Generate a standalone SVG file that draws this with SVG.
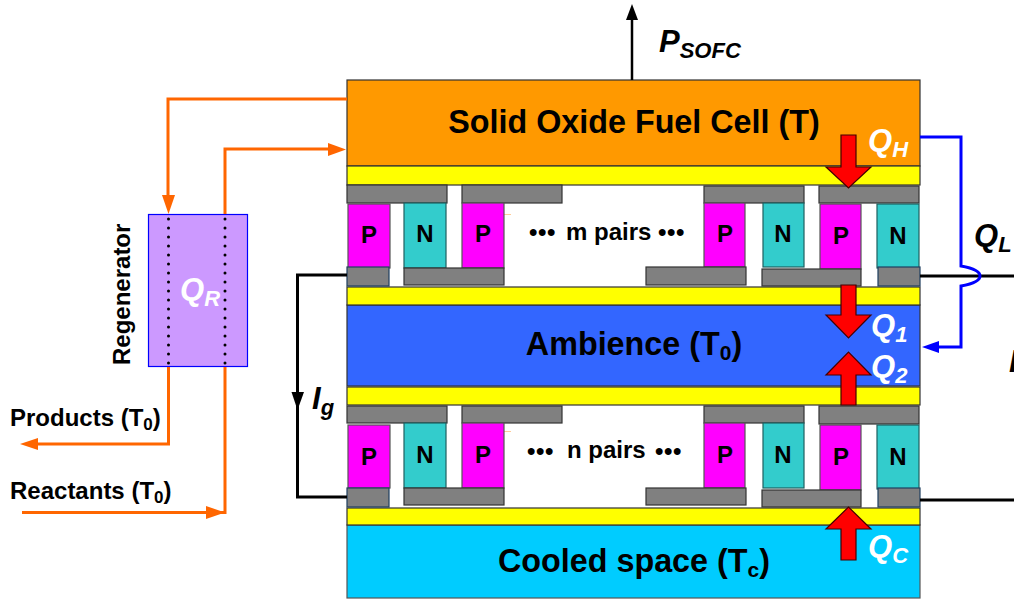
<svg xmlns="http://www.w3.org/2000/svg" width="1014" height="600" viewBox="0 0 1014 600">
<style>
text{font-family:"Liberation Sans",Arial,sans-serif;font-weight:bold;fill:#000}
.t{font-size:32.300px;text-anchor:middle}
.l{font-size:24px}
.pn{font-size:24px;text-anchor:middle}
.dots{font-size:24px;letter-spacing:0.600px}
.q{font-size:31px;font-style:italic;fill:#fff}
.s{font-size:22px}
.g{fill:#808080;stroke:#333;stroke-width:1.2}
.gb{fill:#808080;stroke:#1f3f5f;stroke-width:1.2}
.p{fill:#f0f;stroke:#555;stroke-width:1.2}
.n{fill:#3cc;stroke:#1f5f5f;stroke-width:1.2}
.y{fill:#ff0;stroke:#333;stroke-width:1.2}
.o{fill:none;stroke:#f60;stroke-width:3}
.b{fill:none;stroke:#000;stroke-width:3}
.u{fill:none;stroke:#00f;stroke-width:3}
.d{fill:none;stroke:#000;stroke-width:3;stroke-linecap:round;stroke-dasharray:0 9}
.r{fill:#f00;stroke:#400;stroke-width:1.2}
.tick{stroke:#fc9;stroke-width:1}
</style>
<g id="sofc"><rect x="347" y="80" width="573" height="86" fill="#f90" stroke="#333" stroke-width="1.2"/><text class="t" x="634" y="133">Solid Oxide Fuel Cell (T)</text></g>
<g id="ambience"><rect x="347" y="305" width="573" height="81" fill="#36f" stroke="#333" stroke-width="1.2"/><text class="t" x="634" y="355">Ambience (T<tspan font-size="21" dy="5">0</tspan><tspan dy="-5">)</tspan></text></g>
<g id="cooled"><rect x="347" y="525" width="573" height="73" fill="#0cf" stroke="#555" stroke-width="1.2"/><text class="t" x="634" y="572">Cooled space (T<tspan font-size="21" dy="5">c</tspan><tspan dy="-5">)</tspan></text></g>
<g id="ceramic">
<rect class="y" x="347" y="166" width="573" height="19"/>
<rect class="y" x="347" y="287" width="573" height="18"/>
<rect class="y" x="347" y="387" width="573" height="18"/>
<rect class="y" x="347" y="508" width="573" height="17"/>
</g>
<g id="upper-stage">
<line class="tick" x1="504" y1="214.500" x2="511" y2="214.500"/>
<rect class="g" x="347" y="185" width="100" height="18"/><rect class="g" x="462" y="185" width="100" height="18"/><rect class="g" x="704" y="186" width="100" height="17"/><rect class="g" x="819" y="186" width="100" height="17"/>
<rect class="p" x="348" y="204" width="42" height="64"/><rect class="n" x="404" y="203" width="42" height="65"/><rect class="p" x="462" y="203" width="42" height="65"/><rect class="p" x="704" y="203" width="41" height="64"/><rect class="n" x="763" y="203" width="41" height="64"/><rect class="p" x="820" y="204" width="41" height="65"/><rect class="n" x="877" y="204" width="42" height="64"/>
<rect class="gb" x="347" y="267" width="42" height="19"/><rect class="g" x="404" y="268" width="100" height="17"/><rect class="g" x="646" y="267" width="100" height="18"/><rect class="g" x="762" y="269" width="99" height="17"/><rect class="gb" x="878" y="267" width="42" height="19"/>
<text class="pn" x="369" y="243">P</text><text class="pn" x="425" y="242">N</text><text class="pn" x="483" y="242">P</text><text class="pn" x="725" y="242">P</text><text class="pn" x="783" y="242">N</text><text class="pn" x="841" y="244">P</text><text class="pn" x="898" y="244">N</text>
<text class="dots" x="529" y="240">•••</text><text class="l" x="566" y="240">m pairs</text><text class="dots" x="658" y="240">•••</text>
</g>
<g id="lower-stage">
<line class="tick" x1="504" y1="431.500" x2="511" y2="431.500"/>
<rect class="g" x="347" y="406" width="100" height="17"/><rect class="g" x="462" y="406" width="100" height="17"/><rect class="g" x="704" y="406" width="100" height="17"/><rect class="g" x="819" y="406" width="100" height="18"/>
<rect class="p" x="348" y="425" width="42" height="63"/><rect class="n" x="404" y="423" width="42" height="65"/><rect class="p" x="462" y="423" width="42" height="65"/><rect class="p" x="704" y="423" width="41" height="65"/><rect class="n" x="763" y="423" width="41" height="65"/><rect class="p" x="820" y="425" width="41" height="65"/><rect class="n" x="877" y="425" width="42" height="64"/>
<rect class="gb" x="347" y="488" width="42" height="19"/><rect class="g" x="404" y="488" width="100" height="17"/><rect class="g" x="646" y="488" width="100" height="17"/><rect class="g" x="762" y="490" width="99" height="17"/><rect class="gb" x="878" y="488" width="42" height="19"/>
<text class="pn" x="369" y="465">P</text><text class="pn" x="425" y="463">N</text><text class="pn" x="483" y="463">P</text><text class="pn" x="725" y="463">P</text><text class="pn" x="783" y="463">N</text><text class="pn" x="841" y="465">P</text><text class="pn" x="898" y="465">N</text>
<text class="dots" x="527" y="459">•••</text><text class="l" x="567" y="458">n pairs</text><text class="dots" x="655" y="459">•••</text>
</g>
<g id="regenerator"><rect x="148.500" y="214.500" width="99" height="152" fill="#c9f" stroke="#00f" stroke-width="1.2"/><text class="q" x="180" y="300">Q<tspan class="s" dy="6">R</tspan></text><text class="l" transform="translate(130,365) rotate(-90)">Regenerator</text></g>
<g id="connectors">
<path class="o" d="M347 99H168V200"/><path d="M162 195H175L168.500 214Z" fill="#f60"/>
<path class="o" d="M225 214V149H332"/><path d="M328 143L346 149.500L328 156Z" fill="#f60"/>
<path class="o" d="M168.500 367V444H36"/><path d="M38 438V450L20 444Z" fill="#f60"/>
<path class="o" d="M225 367V512.500H22"/><path d="M206 506L225 512.500L206 519Z" fill="#f60"/>
<path class="d" d="M168.500 219V366"/><path class="d" d="M225 219V366"/>
<path class="b" d="M347 275H297.500V497H347"/><path d="M291.500 392H304L297.500 410Z" fill="#000"/>
<path class="b" d="M920 276H1014M920 500H1014"/>
<path d="M632 80V16" fill="none" stroke="#000" stroke-width="2.500"/><path d="M626 20L632 4L638 20Z" fill="#000"/>
<path class="u" d="M920 137H961V266C972 268 980 271 980 276C980 281 972 284 961 286V347H935"/><path d="M922 347L939 341V353Z" fill="#00f"/>
<path class="r" d="M841 135H856V167H871L848.500 188L826 167H841Z"/>
<path class="r" d="M841 285H856V315H871L848.500 338L826 315H841Z"/>
<path class="r" d="M841 405H856V375H871L848.500 352L826 375H841Z"/>
<path class="r" d="M841 560H856V529H871L848.500 507L826 529H841Z"/>
</g>
<g id="labels">
<text class="q" x="659" y="52" style="fill:#000">P<tspan class="s" dy="6">SOFC</tspan></text>
<text class="q" x="868" y="151">Q<tspan class="s" dy="6">H</tspan></text>
<text class="q" style="fill:#000" x="974" y="246">Q<tspan class="s" dy="6">L</tspan></text>
<text class="q" x="871" y="336">Q<tspan class="s" dy="6">1</tspan></text>
<text class="q" x="871" y="377">Q<tspan class="s" dy="6">2</tspan></text>
<text class="q" x="868" y="557">Q<tspan class="s" dy="6">C</tspan></text>
<text class="q" style="fill:#000" x="312" y="409">I<tspan class="s" dy="6">g</tspan></text>
<text class="q" style="fill:#000" x="1009" y="372">P</text>
<text class="l" x="10" y="426">Products (T<tspan font-size="17" dy="4">0</tspan><tspan dy="-4">)</tspan></text>
<text class="l" x="10" y="499">Reactants (T<tspan font-size="17" dy="4">0</tspan><tspan dy="-4">)</tspan></text>
</g>
</svg>
